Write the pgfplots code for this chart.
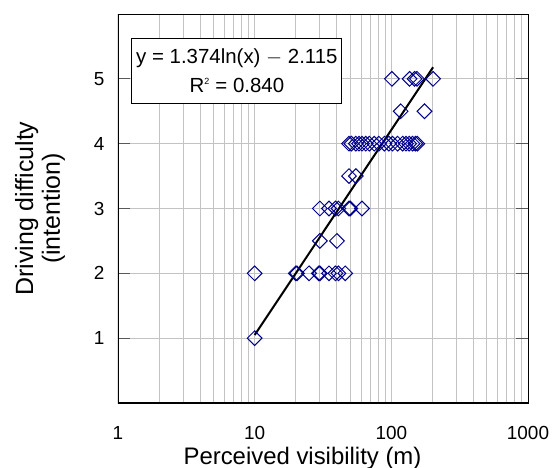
\documentclass[border=0pt]{standalone}
\usepackage{fontspec}
\setmainfont{Liberation Sans}
\usepackage{pgfplots}
\pgfplotsset{compat=1.18}
\definecolor{ptnavy}{RGB}{0,0,140}
\definecolor{gridgray}{RGB}{195,195,195}

\begin{document}
\begin{tikzpicture}
\path[use as bounding box] (-118bp,-65bp) rectangle (434bp,403bp);
\begin{axis}[
  xmode=log,
  scale only axis,
  width=410bp, height=389bp,
  xmin=1, xmax=1000,
  ymin=0, ymax=6,
  xtick={1,10,100,1000},
  xticklabels={1,10,100,1000},
  ytick={1,2,3,4,5},
  grid=both,
  major grid style={gridgray, line width=0.9bp},
  minor grid style={gridgray, line width=0.9bp},
  yminorgrids=false,
  major x tick style={draw=none},
  minor x tick style={draw=none},
  major y tick style={gray!70!black, line width=0.8bp},
  major tick length=12bp,
  tick align=inside,
  axis line style={black, line width=0.8bp},
  /pgf/number format/assume math mode=true,
  tick label style={font=\fontsize{19}{21}\selectfont},
  xticklabel style={anchor=base, inner sep=0pt, yshift=-36bp},
  yticklabel style={xshift=-10bp},
  xlabel={Perceived visibility (m)},
  xlabel style={font=\fontsize{24}{26}\selectfont, inner sep=0pt,
    at={(rel axis cs:0.45,0)}, anchor=base, yshift=-61bp},
  ylabel={Driving difficulty\\(intention)},
  ylabel style={font=\fontsize{25}{27}\selectfont, align=center, yshift=22bp},
]
\addplot[only marks, mark=square, mark size=5.2bp,
  mark options={rotate=45, draw=ptnavy, line width=1bp, fill=none}]
coordinates {
  (10,1)
  (10,2) (20,2) (20.4,2) (25,2) (29.5,2) (30,2) (35,2) (39,2) (41,2) (46,2)
  (30,2.5) (40,2.5)
  (30,3) (35,3) (39,3) (41,3) (49,3) (50,3) (61,3)
  (49,3.5) (55,3.5)
  (49,4) (51,4) (55,4) (58,4) (61,4) (65,4) (69,4) (75,4) (81,4) (89,4)
  (96,4) (102,4) (111,4) (121,4) (128,4) (135,4) (143,4) (150,4) (155,4)
  (117,4.5) (175,4.5)
  (101,5) (136,5) (148,5) (154,5) (202,5)
};
\addplot[black, line width=2bp] coordinates {(10,1.049) (202,5.179)};
\draw[black, line width=2bp] (rel axis cs:0,1) -- (rel axis cs:0,0) -- (rel axis cs:1,0);
\node[draw=black, line width=0.8bp, fill=white, align=center,
  minimum width=210bp, minimum height=65bp, inner sep=0pt,
  font=\fontsize{20.5}{29}\selectfont]
  at (rel axis cs:0.290,0.855) {y = 1.374ln(x) $-$ 2.115\\R\textsuperscript{\fontsize{9}{9}\selectfont 2} = 0.840};
\end{axis}
\end{tikzpicture}
\end{document}
